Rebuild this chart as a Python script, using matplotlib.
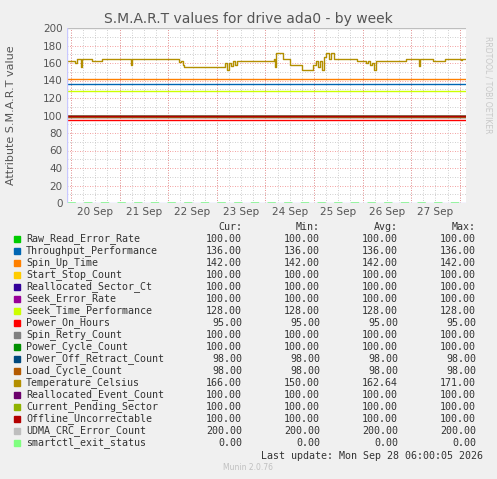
import numpy as np
import matplotlib.pyplot as plt

# series names, colours and legend stats (cur, min, avg, max)
names = ["Raw_Read_Error_Rate", "Throughput_Performance", "Spin_Up_Time", "Start_Stop_Count",
         "Reallocated_Sector_Ct", "Seek_Error_Rate", "Seek_Time_Performance", "Power_On_Hours",
         "Spin_Retry_Count", "Power_Cycle_Count", "Power_Off_Retract_Count", "Load_Cycle_Count",
         "Temperature_Celsius", "Reallocated_Event_Count", "Current_Pending_Sector",
         "Offline_Uncorrectable", "UDMA_CRC_Error_Count", "smartctl_exit_status"]
colors = ["#00cc00", "#0066b3", "#ff8000", "#ffcc00", "#330099", "#990099", "#ccff00", "#ff0000",
          "#808080", "#008f00", "#00487d", "#b35a00", "#b38f00", "#6b006b", "#8fb300",
          "#b30000", "#bebebe", "#80ff80"]
cur = [100, 136, 142, 100, 100, 100, 128, 95, 100, 100, 98, 98, 166, 100, 100, 100, 200, 0]
vmin = [100, 136, 142, 100, 100, 100, 128, 95, 100, 100, 98, 98, 150, 100, 100, 100, 200, 0]
avg = [100, 136, 142, 100, 100, 100, 128, 95, 100, 100, 98, 98, 162.64, 100, 100, 100, 200, 0]
vmax = [100, 136, 142, 100, 100, 100, 128, 95, 100, 100, 98, 98, 171, 100, 100, 100, 200, 0]

# temperature trace: hours since 19 Sep 22:00, value
temp_h = [0, 3.5, 4, 4.9, 6.4, 6.9, 7.4, 11.9, 12.4, 16.8, 17.3, 31.1, 31.6, 32.1, 54.8, 55.3, 56.3,
          57.3, 57.8, 77.1, 78.1, 79, 80, 81, 82, 83, 84, 101.8, 102.3, 102.8, 103.2, 106.2, 106.7,
          109.7, 110.2, 115.1, 116.1, 120.5, 121.5, 123, 124, 125, 126, 127, 128, 129.4, 130.4,
          131.9, 142.3, 143.3, 146.7, 147.7, 148.7, 149.7, 150.7, 151.7, 152.6, 167, 167.5, 173.4,
          173.9, 174.4, 180.3, 180.8, 185.7, 186.7, 194.1, 194.6, 195.1, 197.1]
temp_v = [162, 162, 160, 165, 165, 155, 165, 165, 162, 162, 165, 165, 158, 165, 165, 161, 162,
          158, 156, 156, 160, 152, 160, 157, 162, 158, 162, 162, 165, 155, 171, 171, 165,
          165, 158, 158, 152, 152, 158, 162, 155, 162, 152, 167, 171, 165, 171,
          165, 165, 162, 162, 160, 162, 158, 160, 152, 162, 162, 165, 165,
          157, 165, 165, 162, 162, 165, 165, 163, 165, 165]
day_labels = ["20 Sep", "21 Sep", "22 Sep", "23 Sep", "24 Sep", "25 Sep", "26 Sep", "27 Sep"]
t_end = 197.1

fig = plt.figure(figsize=(4.97, 4.79), dpi=100, facecolor="#f0f0f0")
ax = fig.add_axes([67 / 497, 1 - 203 / 479, 399 / 497, 175 / 479])
ax.set_facecolor("white")

for i, n in enumerate(names):
    if n == "Temperature_Celsius":
        ax.step(temp_h, temp_v, where="post", color=colors[i], lw=1)
    elif n == "smartctl_exit_status":
        ax.plot([0, t_end], [cur[i]] * 2, color=colors[i], lw=2, ls=(0, (3, 3)))
    else:
        ax.plot([0, t_end], [cur[i]] * 2, color=colors[i], lw=1)

ax.set_xlim(0, t_end)
ax.set_ylim(0, 200)
ax.set_yticks(np.arange(0, 201, 20))
ax.set_xticks([2 + 24 * k + 12 for k in range(len(day_labels))])
ax.set_xticklabels(day_labels)
for h in np.arange(2, t_end, 6):
    ax.axvline(h, color="#c0c0c0", lw=0.6, ls=(0, (1, 2)), zorder=0)
for h in np.arange(2, t_end, 24):
    ax.axvline(h, color="#f08080", lw=0.6, ls=(0, (1, 2)), zorder=0)
for y in np.arange(10, 201, 10):
    ax.axhline(y, color="#f08080" if y % 20 == 0 else "#c0c0c0", lw=0.6, ls=(0, (1, 2)), zorder=0)
ax.tick_params(axis="both", which="both", length=0, labelsize=7.5, colors="#555555", pad=3)
for s in ax.spines.values():
    s.set_visible(False)
ax.axhline(0, color="#c8c8ff", lw=1)
ax.axvline(0, color="#c8c8ff", lw=1)
fig.text(11 / 497, 1 - 115 / 479, "Attribute S.M.A.R.T value", rotation=90, ha="center",
         va="center", fontsize=8, color="#555555")
fig.text(0.5, 1 - 19 / 479, "S.M.A.R.T values for drive ada0 - by week", ha="center",
         va="center", fontsize=10, color="#555555")
fig.text(488 / 497, 1 - 85 / 479, "RRDTOOL / TOBI OETIKER", rotation=270, ha="center",
         va="center", fontsize=5.5, color="#c8c8c8")

mono = "DejaVu Sans Mono"
fs = 7.2
y0 = 227
for x, h in zip([242, 320, 398, 476], ["Cur:", "Min:", "Avg:", "Max:"]):
    fig.text(x / 497, 1 - y0 / 479, h, ha="right", va="center", family=mono, fontsize=fs, color="#333333")
for i, n in enumerate(names):
    y = 1 - (y0 + 12 * (i + 1)) / 479
    fig.patches.append(plt.Rectangle((14 / 497, y - 3 / 479), 6 / 497, 6 / 479,
                                     transform=fig.transFigure, color=colors[i]))
    fig.text(26 / 497, y, n, va="center", family=mono, fontsize=fs, color="#333333")
    for x, v in zip([242, 320, 398, 476], [cur[i], vmin[i], avg[i], vmax[i]]):
        fig.text(x / 497, y, f"{v:.2f}", ha="right", va="center", family=mono, fontsize=fs, color="#333333")
fig.text(483 / 497, 1 - 456 / 479, "Last update: Mon Sep 28 06:00:05 2026", ha="right",
         va="center", family=mono, fontsize=fs, color="#333333")
fig.text(248 / 497, 1 - 468 / 479, "Munin 2.0.76", ha="center", va="center", fontsize=5.5, color="#c0c0c0")

fig.savefig("out.png", dpi=100, facecolor=fig.get_facecolor())
